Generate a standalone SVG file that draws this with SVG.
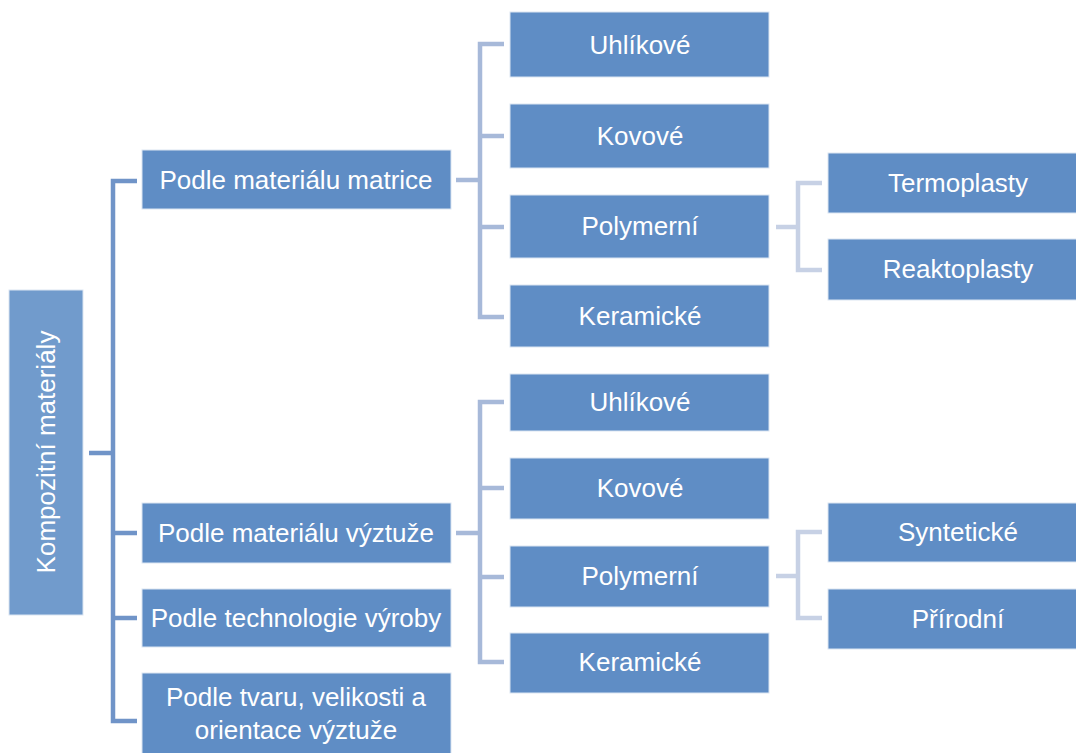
<svg xmlns="http://www.w3.org/2000/svg" width="1076" height="753" viewBox="0 0 1076 753">
<style>
.box{fill:#5f8dc5;stroke:#dbe5f2;stroke-width:1}
.root{fill:#719bcc;stroke:#dbe5f2;stroke-width:1}
.t{font-family:"Liberation Sans",Arial,sans-serif;font-size:26px;fill:#ffffff;text-anchor:middle}
.c1{fill:none;stroke:#7094c8;stroke-width:4.5}
.c2{fill:none;stroke:#a7b9d9;stroke-width:4.5}
.c3{fill:none;stroke:#c7d1e5;stroke-width:4.5}
</style>
<rect width="1076" height="753" fill="#ffffff"/>
<g id="connectors">
<path class="c1" d="M89 453H113M137 181H113V721H137M113 533H137M113 618H137"/>
<path class="c2" d="M456 180H480M504 44H480V317H504M480 136H504M480 227H504"/>
<path class="c2" d="M456 533H480M504 402H480V662H504M480 488H504M480 577H504"/>
<path class="c3" d="M776 227H798M822 183H798V270H822"/>
<path class="c3" d="M776 576H798M822 532H798V618H822"/>
</g>
<g id="root"><rect class="root" x="9" y="290" width="74" height="325"/><text class="t" transform="translate(55 452) rotate(-90)">Kompozitní materiály</text></g>
<g id="n-matrice"><rect class="box" x="142" y="150" width="309" height="59"/><text class="t" x="296" y="189">Podle materiálu matrice</text></g>
<g id="n-vyztuze"><rect class="box" x="142" y="503" width="309" height="60"/><text class="t" x="296" y="542">Podle materiálu výztuže</text></g>
<g id="n-technologie"><rect class="box" x="142" y="589" width="309" height="58"/><text class="t" x="296" y="627">Podle technologie výroby</text></g>
<g id="n-tvar"><rect class="box" x="142" y="673" width="309" height="96"/><text class="t" x="296" y="706">Podle tvaru, velikosti a</text><text class="t" x="296" y="739">orientace výztuže</text></g>
<g id="m-uhlikove"><rect class="box" x="510" y="12" width="259" height="65"/><text class="t" x="640" y="54">Uhlíkové</text></g>
<g id="m-kovove"><rect class="box" x="510" y="104" width="259" height="64"/><text class="t" x="640" y="145">Kovové</text></g>
<g id="m-polymerni"><rect class="box" x="510" y="195" width="259" height="63"/><text class="t" x="640" y="235">Polymerní</text></g>
<g id="m-keramicke"><rect class="box" x="510" y="285" width="259" height="62"/><text class="t" x="640" y="325">Keramické</text></g>
<g id="v-uhlikove"><rect class="box" x="510" y="374" width="259" height="57"/><text class="t" x="640" y="411">Uhlíkové</text></g>
<g id="v-kovove"><rect class="box" x="510" y="458" width="259" height="61"/><text class="t" x="640" y="497">Kovové</text></g>
<g id="v-polymerni"><rect class="box" x="510" y="546" width="259" height="61"/><text class="t" x="640" y="585">Polymerní</text></g>
<g id="v-keramicke"><rect class="box" x="510" y="633" width="259" height="60"/><text class="t" x="640" y="671">Keramické</text></g>
<g id="termoplasty"><rect class="box" x="828" y="153" width="260" height="60"/><text class="t" x="958" y="192">Termoplasty</text></g>
<g id="reaktoplasty"><rect class="box" x="828" y="239" width="260" height="61"/><text class="t" x="958" y="278">Reaktoplasty</text></g>
<g id="synteticke"><rect class="box" x="828" y="503" width="260" height="59"/><text class="t" x="958" y="541">Syntetické</text></g>
<g id="prirodni"><rect class="box" x="828" y="589" width="260" height="60"/><text class="t" x="958" y="628">Přírodní</text></g>
</svg>
